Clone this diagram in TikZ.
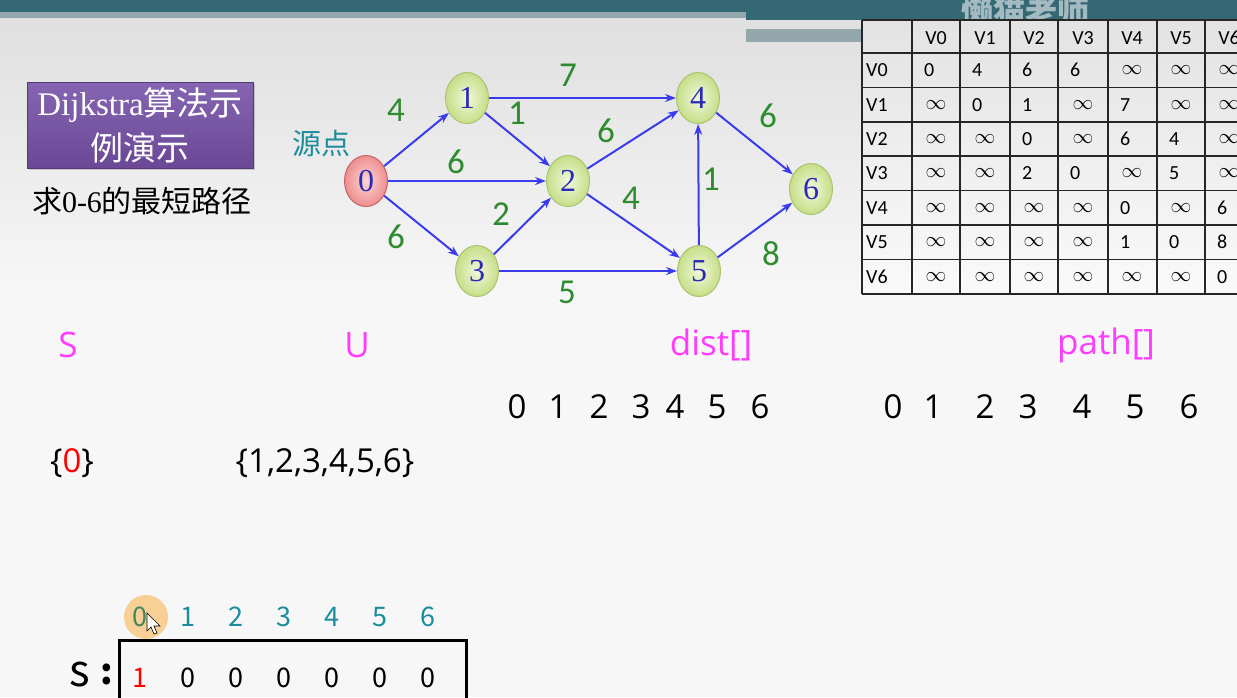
\documentclass[tikz,border=0pt]{standalone}
\usepackage{fontspec}
\setmainfont{Liberation Serif}
\newfontfamily\cjk{Noto Sans CJK SC}
\newfontfamily\calfont{Carlito}
\newfontfamily\comic{Open Sans}
\usetikzlibrary{shapes.geometric,arrows.meta,shadows}
\definecolor{teal1}{HTML}{356875}
\definecolor{bandc}{HTML}{93A7AC}
\definecolor{nodein}{HTML}{F2F8DC}
\definecolor{nodeout}{HTML}{C6DE88}
\definecolor{nodeedge}{HTML}{A9C46E}
\definecolor{srcin}{HTML}{FBD6D6}
\definecolor{srcout}{HTML}{EE8E8E}
\definecolor{srcedge}{HTML}{C86464}
\definecolor{nodetext}{HTML}{2B2BB8}
\definecolor{edgeblue}{HTML}{3B3BEE}
\definecolor{wgreen}{HTML}{2E8B2E}
\definecolor{srcteal}{HTML}{1F8C9C}
\definecolor{magent}{HTML}{FF3DFF}
\definecolor{tealnum}{HTML}{1A8E9E}
\definecolor{purtop}{HTML}{8565B2}
\definecolor{purbot}{HTML}{6A4896}
\definecolor{hilite}{HTML}{F8CF94}
\tikzset{
  gnode/.style={ellipse, minimum width=43pt, minimum height=51pt, inner sep=0pt,
    draw=nodeedge, line width=1pt, shading=radial, inner color=nodein, outer color=nodeout,
    font=\fontsize{32}{32}\selectfont, text=nodetext},
  srcnode/.style={gnode, draw=srcedge, inner color=srcin, outer color=srcout},
  gedge/.style={draw=edgeblue, line width=2pt, -{Stealth[length=11pt,width=8pt]}},
  wlabel/.style={text=wgreen, font=\calfont\fontsize{35}{35}\selectfont, inner sep=0pt},
  tcell/.style={font=\calfont\fontsize{20}{20}\selectfont, inner sep=0pt},
  tinf/.style={font=\fontsize{22}{22}\selectfont, inner sep=0pt},
  headtxt/.style={text=magent, font=\comic\fontsize{35}{35}\selectfont, inner sep=0pt},
  numtxt/.style={font=\comic\fontsize{33}{33}\selectfont, inner sep=0pt},
  idxtxt/.style={text=tealnum, font=\cjk\fontsize{27}{27}\selectfont, inner sep=0pt},
  arrtxt/.style={font=\cjk\fontsize{27}{27}\selectfont, inner sep=0pt},
}
\begin{document}
\begin{tikzpicture}[x=1pt,y=-1pt]
\useasboundingbox (0,0) rectangle (1237,697);
% background
\shade[top color=black!13, bottom color=black!3] (0,0) rectangle (1237,300);
\fill[black!3] (0,300) rectangle (1237,697);
% top bands
\fill[teal1] (0,0) rectangle (1237,12);
\fill[bandc] (0,12) rectangle (746,18);
\fill[teal1] (746,0) rectangle (1237,20);
\fill[bandc] (746,29) rectangle (862,42);
\node[text=white, opacity=0.55, font=\cjk\bfseries\fontsize{32}{32}\selectfont, anchor=west] (wm) at (958,12) {懒猫老师};
% table
\shade[top color=black!11, bottom color=black!2] (862,20) rectangle (1237,294);
\foreach \xx in {862,912,960,1010,1058,1108,1157,1205}
  \draw[line width=1.6pt, black!85] (\xx,20) -- (\xx,294);
\foreach \yy in {20,53,87.4,121.8,156.2,190.6,225,259.4,294}
  \draw[line width=1.6pt, black!85] (862,\yy) -- (1237,\yy);
\foreach \h [count=\c from 0] in {V0,V1,V2,V3,V4,V5,V6} {
  \pgfmathsetmacro{\cx}{{936,985,1034,1083,1132,1181,1229}[\c]}
  \node[tcell] (hd\c) at (\cx,38) {\h};
  \pgfmathsetmacro{\ry}{53+34.4*(\c+0.5)}
  \node[tcell, anchor=west] (rl\c) at (866,\ry) {\h};
}
\def\infv{i}
\foreach \r/\vals in {0/{0,4,6,6,i,i,i},1/{i,0,1,i,7,i,i},2/{i,i,0,i,6,4,i},3/{i,i,2,0,i,5,i},4/{i,i,i,i,0,i,6},5/{i,i,i,i,1,0,8},6/{i,i,i,i,i,i,0}} {
  \pgfmathsetmacro{\ry}{53+34.4*(\r+0.5)}
  \foreach \v [count=\c from 0] in \vals {
    \pgfmathsetmacro{\cl}{{912,960,1010,1058,1108,1157,1205}[\c]}
    \pgfmathsetmacro{\cx}{{936,985,1034,1083,1132,1181,1229}[\c]}
    \edef\tmpv{\v}
    \ifx\tmpv\infv
      \node[tinf] (cell\r\c) at (\cx,\ry) {$\infty$};
    \else
      \node[tcell, anchor=west] (cell\r\c) at (\cl+12,\ry) {\v};
    \fi
  }
}
% title box
\node[minimum width=226pt, minimum height=86pt, top color=purtop, bottom color=purbot,
  draw=purbot!80!black, line width=0.6pt, drop shadow={opacity=0.35, shadow xshift=2pt, shadow yshift=-2pt},
  text=white, align=center, inner sep=0pt, font=\fontsize{33}{45}\selectfont] (title) at (140,125)
  {Dijkstra{\cjk 算法示}\\{\cjk 例演示}};
\node[font=\fontsize{30}{30}\selectfont, inner sep=0pt] (task) at (142,201) {{\cjk 求}0-6{\cjk 的最短路径}};
% graph
\node[text=srcteal, font=\cjk\fontsize{29}{29}\selectfont, inner sep=0pt] (src) at (321,143) {源点};
\node[srcnode] (n0) at (366,181) {0};
\node[gnode] (n1) at (467,98) {1};
\node[gnode] (n2) at (568,181) {2};
\node[gnode] (n3) at (477,271) {3};
\node[gnode] (n4) at (698,98) {4};
\node[gnode] (n5) at (699,271) {5};
\node[gnode] (n6) at (811,189) {6};
\draw[gedge] (n0) -- (n1);
\draw[gedge] (n0) -- (n2);
\draw[gedge] (n0) -- (n3);
\draw[gedge] (n1) -- (n2);
\draw[gedge] (n1) -- (n4);
\draw[gedge] (n2) -- (n4);
\draw[gedge] (n2) -- (n5);
\draw[gedge] (n3) -- (n2);
\draw[gedge] (n3) -- (n5);
\draw[gedge] (n5) -- (n4);
\draw[gedge] (n4) -- (n6);
\draw[gedge] (n5) -- (n6);
\node[wlabel] (w01) at (396,110) {4};
\node[wlabel] (w14) at (568,75) {7};
\node[wlabel] (w12) at (517,113) {1};
\node[wlabel] (w02) at (456,162) {6};
\node[wlabel] (w24) at (606,131) {6};
\node[wlabel] (w46) at (768,116) {6};
\node[wlabel] (w32) at (501,214) {2};
\node[wlabel] (w25) at (631,198) {4};
\node[wlabel] (w54) at (711,179) {1};
\node[wlabel] (w03) at (396,237) {6};
\node[wlabel] (w35) at (567,292) {5};
\node[wlabel] (w56) at (771,254) {8};
% S U dist path
\node[headtxt] (hS) at (68,345) {S};
\node[headtxt] (hU) at (357,345) {U};
\node[headtxt] (hd) at (711,345) {dist[]};
\node[headtxt] (hp) at (1106,345) {path[]};
\foreach \d/\xx in {0/517,1/558,2/599,3/641,4/675,5/717,6/760}
  \node[numtxt] (di\d) at (\xx,407) {\d};
\foreach \d/\xx in {0/893,1/933,2/985,3/1028,4/1082,5/1135,6/1189}
  \node[numtxt] (pi\d) at (\xx,407) {\d};
\node[numtxt] (setS) at (72,463) {\{\textcolor{red}{0}\}};
\node[numtxt] (setU) at (325,463) {\{1,2,3,4,5,6\}};
% s array
\fill[hilite] (146,617) circle (22pt);
\foreach \d/\xx in {1/188,2/236,3/284,4/332,5/380,6/428}
  \node[idxtxt] (ix\d) at (\xx,617) {\d};
\node[text=tealnum!60!olive, font=\cjk\fontsize{27}{27}\selectfont, inner sep=0pt] (ix0) at (140,617) {0};
\draw[fill=white, line width=0.6pt] (147,613) -- (147,631) -- (151,627) -- (154,634) -- (157,633) -- (154,626) -- (160,626) -- cycle;
\node[font=\cjk\fontsize{44}{44}\selectfont, inner sep=0pt] (sl) at (80,675) {s};
\node[font=\cjk\bfseries\fontsize{36}{36}\selectfont, inner sep=0pt] (sc) at (107,674) {:};
\draw[line width=3pt] (119,700) -- (119,640) -- (466,640) -- (466,700);
\foreach \d/\xx in {0/188,1/236,2/284,3/332,4/380,5/428}
  \node[arrtxt] (sv\d) at (\xx,678) {0};
\node[arrtxt, text=red] (sv1st) at (140,678) {1};
\end{tikzpicture}
\end{document}
